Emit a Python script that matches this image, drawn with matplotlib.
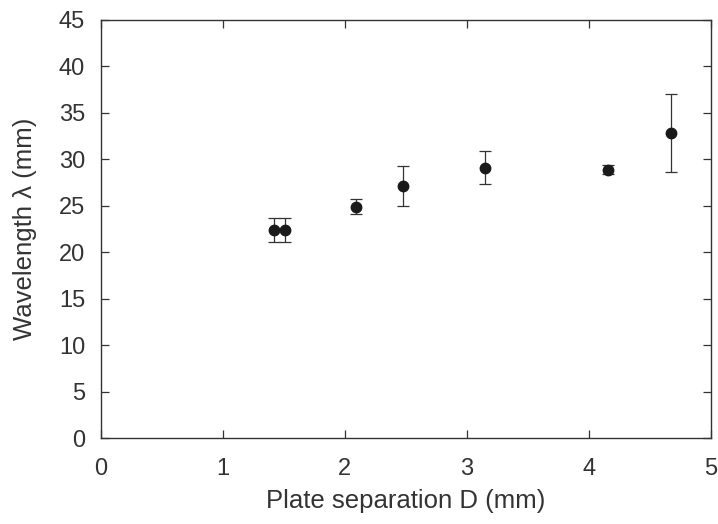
import matplotlib
matplotlib.use("Agg")
import matplotlib.pyplot as plt
import numpy as np

plt.rcParams['font.family'] = ['Liberation Sans', 'DejaVu Sans']

# plate separation (mm), wavelength (mm) and its uncertainty
separation = [1.42, 1.51, 2.09, 2.475, 3.15, 4.16, 4.67]
wavelength = [22.35, 22.35, 24.9, 27.1, 29.1, 28.9, 32.85]
wl_err = [1.3, 1.3, 0.8, 2.15, 1.75, 0.45, 4.2]

xticks = [0, 1, 2, 3, 4, 5]
yticks = list(range(0, 50, 5))

fig = plt.figure(figsize=(7.18, 5.24), dpi=100)
ax = fig.add_axes([0.140, 0.164, 0.850, 0.798])

ax.errorbar(separation, wavelength, yerr=wl_err, fmt='o', color='#1a1a1a',
            ms=7.5, ecolor='#333333', elinewidth=0.9, capsize=4, capthick=0.9)

ax.set_xlim(0, 5)
ax.set_ylim(0, 45)
ax.set_xticks(xticks)
ax.set_yticks(yticks)
ax.tick_params(direction='in', top=True, right=True, length=6, width=0.9,
               labelsize=17, color='#333333', labelcolor='#333333')
ax.tick_params(axis='x', pad=14)
ax.tick_params(axis='y', pad=11)
for sp in ax.spines.values():
    sp.set_color('#333333')
    sp.set_linewidth(1.0)

ax.set_xlabel('Plate separation D (mm)', fontsize=18.5, color='#333333', labelpad=7)
ax.set_ylabel('Wavelength λ (mm)', fontsize=18.5, color='#333333', labelpad=16)

fig.savefig('out.png', dpi=100)
